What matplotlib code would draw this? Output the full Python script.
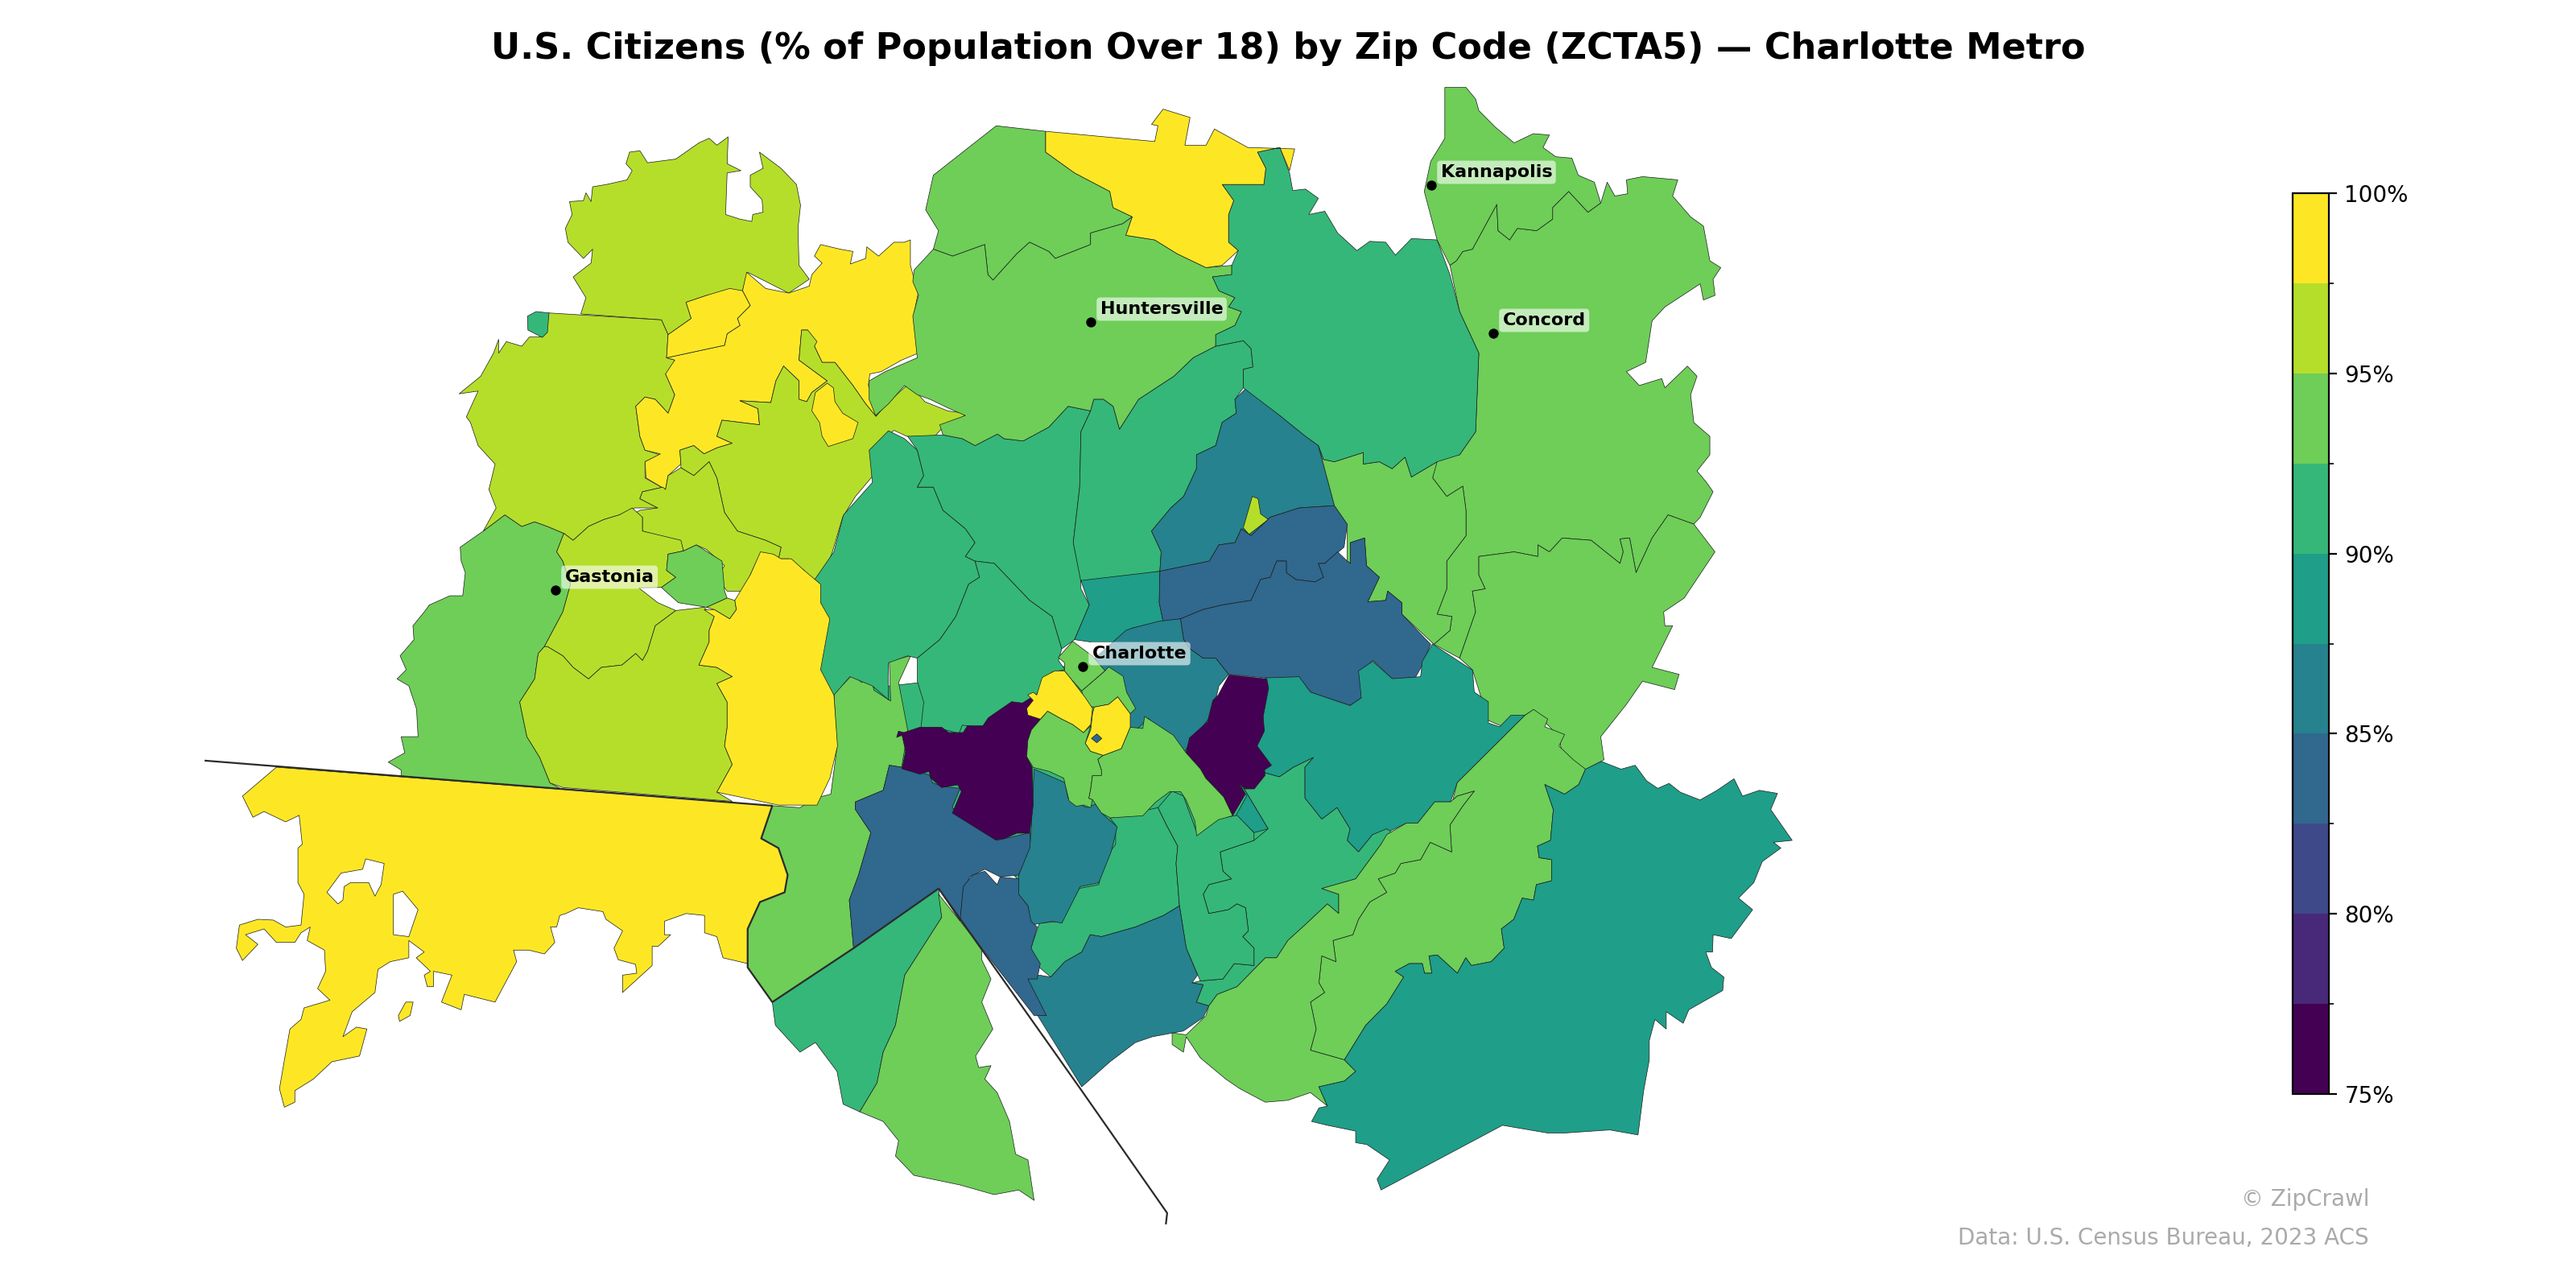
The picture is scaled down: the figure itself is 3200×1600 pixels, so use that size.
import matplotlib
matplotlib.use('Agg')
import matplotlib.pyplot as plt
from matplotlib.collections import PolyCollection
from matplotlib.colors import BoundaryNorm
from matplotlib.ticker import FixedLocator

SHEET_NW = (240, 100, 1.568, 1.742)
SHEET_N = (1000, 100, 1.2544, 1.742)
SHEET_SW = (240, 800, 1.3067, 2.0907)
SHEET_S = (1200, 800, 1.4255, 2.0907)
SHEET_MID = (1000, 700, 2.24, 3.0)

center_backing = [(137,471),(959,348),(1418,777),(1234,1329),(685,1329),(457,960),(184,777)]
green_west = [(607,940),(640,965),(665,955),(690,965),(722,980),(708,1020),(720,1040),(735,1090),(720,1150),(684,1225),(672,1240),(665,1295),(636,1345),(650,1420),(675,1465),(695,1520),(720,1535),(405,1505),(405,1492),(380,1475),(412,1455),(405,1420),(438,1420),(435,1360),(420,1310),(397,1295),(415,1275),(403,1245),(430,1210),(428,1180),(450,1150),(460,1135),(500,1115),(525,1115),(530,1065),(522,1040),(520,1010),(565,975)]
lime_north = [(740,425),(775,395),(778,365),(760,385),(730,350),(725,320),(738,290),(733,262),(760,260),(765,243),(775,262),(778,230),(805,225),(845,215),(855,195),(843,180),(850,155),(870,152),(885,178),(940,170),(985,135),(1005,125),(1020,140),(1042,122),(1040,180),(1067,195),(1040,200),(1037,290),(1065,300),(1088,305),(1090,290),(1110,285),(1108,258),(1085,230),(1085,205),(1110,190),(1103,155),(1145,190),(1175,225),(1183,270),(1178,320),(1180,400),(1200,430),(1160,460),(1080,415),(1070,455),(1000,465),(960,480),(970,515),(925,550),(912,518),(755,505),(765,470)]
lime_west = [(693,503),(912,518),(925,550),(922,600),(938,605),(930,635),(920,635),(938,680),(925,720),(900,690),(880,685),(862,705),(870,770),(880,800),(910,810),(880,825),(880,860),(920,885),(915,880),(875,890),(870,905),(905,925),(860,925),(830,940),(800,950),(770,965),(740,995),(722,980),(690,965),(665,955),(640,965),(607,940),(565,975),(590,925),(576,885),(588,830),(555,790),(540,740),(532,728),(555,672),(518,678),(560,640),(585,590),(595,560),(595,590),(610,565),(640,575),(655,555),(680,555)]
square_nw = [(651,510),(668,500),(693,503),(690,545),(680,556),(652,540)]
yellow_nw = [(922,600),(1035,573),(1040,548),(1065,530),(1060,515),(1085,487),(1070,455),(1078,415),(1115,450),(1160,460),(1200,445),(1205,420),(1225,395),(1210,380),(1222,355),(1260,365),(1285,370),(1280,397),(1310,385),(1312,360),(1335,380),(1365,350),(1385,350),(1397,345),(1397,400),(1412,460),(1403,510),(1412,590),(1380,605),(1340,630),(1318,635),(1315,660),(1330,700),(1345,707),(1330,727),(1310,700),(1285,660),(1250,610),(1225,610),(1210,575),(1197,540),(1185,540),(1180,605),(1235,650),(1205,675),(1195,695),(1180,690),(1180,650),(1150,618),(1135,650),(1125,697),(1065,693),(1100,710),(1103,745),(1030,735),(1020,770),(1050,785),(1020,795),(995,808),(975,790),(948,800),(950,830),(925,855),(920,885),(882,860),(880,825),(910,808),(880,800),(870,770),(862,705),(880,685),(900,690),(925,720),(938,680),(920,635),(938,605)]
yellow_nw_inner = [(922,600),(925,550),(970,515),(960,480),(1000,465),(1045,450),(1070,455),(1085,487),(1060,515),(1065,530),(1040,548),(1035,573)]
lime_center = [(1185,540),(1197,540),(1215,565),(1210,575),(1225,610),(1250,610),(1285,660),(1310,700),(1330,727),(1345,707),(1370,680),(1390,660),(1405,670),(1425,695),(1470,715),(1503,720),(1500,735),(1465,745),(1440,775),(1390,770),(1365,757),(1320,800),(1328,850),(1290,900),(1265,945),(1245,1020),(1222,1090),(1222,1130),(1190,1060),(1160,1035),(1140,1035),(1145,1010),(1115,995),(1060,975),(1035,935),(1020,860),(1005,825),(975,855),(950,838),(950,830),(948,800),(975,790),(995,808),(1020,795),(1050,785),(1020,770),(1030,735),(1103,745),(1100,710),(1065,693),(1125,697),(1135,650),(1150,618),(1180,650),(1180,690),(1195,695),(1205,675),(1235,650),(1180,605)]
yellow_small = [(1205,715),(1212,675),(1235,655),(1247,665),(1250,695),(1265,720),(1295,740),(1285,775),(1237,792),(1225,770),(1220,740)]
lime_middle = [(950,838),(975,855),(1005,825),(1020,860),(1035,935),(1060,975),(1115,995),(1145,1010),(1140,1035),(1100,1035),(1085,1070),(1085,1100),(1067,1105),(1040,1105),(1020,1075),(1035,1050),(1000,1015),(980,1005),(955,1018),(950,1000),(875,975),(875,945),(855,940),(870,930),(905,925),(870,905),(875,890),(915,880),(920,885),(925,855)]
lime_gastonia = [(722,980),(740,995),(770,965),(800,950),(830,940),(855,925),(875,945),(875,975),(950,995),(955,1018),(925,1025),(922,1060),(940,1075),(912,1097),(868,1098),(905,1130),(940,1147),(900,1180),(885,1235),(875,1255),(862,1240),(835,1265),(795,1270),(770,1295),(740,1270),(720,1245),(690,1225),(684,1225),(720,1150),(735,1090),(720,1040),(708,1020)]
lime_south = [(684,1225),(690,1225),(720,1245),(740,1270),(770,1295),(795,1270),(835,1265),(862,1240),(875,1255),(885,1235),(900,1180),(940,1147),(995,1140),(1015,1160),(1005,1190),(1005,1215),(985,1265),(1020,1270),(1050,1290),(1020,1305),(1040,1345),(1040,1400),(1035,1440),(1050,1480),(1020,1540),(1050,1560),(720,1530),(695,1520),(675,1465),(650,1420),(636,1345),(665,1295),(672,1240)]
green_blob = [(925,1025),(955,1018),(980,1005),(1030,1040),(1035,1105),(1040,1120),(1000,1140),(945,1130),(912,1097),(940,1075),(922,1060)]
lime_bit = [(1000,1140),(1040,1120),(1055,1125),(1058,1145),(1045,1165),(1015,1145)]
yellow_column = [(1045,1165),(1058,1145),(1055,1125),(1085,1070),(1105,1020),(1130,1025),(1145,1035),(1165,1035),(1190,1060),(1222,1090),(1222,1130),(1240,1165),(1222,1275),(1248,1330),(1255,1440),(1240,1510),(1215,1568),(1180,1568),(1140,1568),(1020,1540),(1050,1480),(1035,1440),(1040,1400),(1040,1345),(1020,1305),(1050,1290),(1020,1270),(985,1265),(1005,1215),(1005,1190),(1015,1160),(995,1145),(1015,1145)]

green_strip = [(1040,125),(1055,105),(1070,80),(1085,100),(1100,85),(1105,120),(1132,148),(1130,45),(1165,30),(1145,100),(1160,225),(1150,320),(1130,315),(1120,380),(1075,410),(1075,430),(1100,490),(1080,600),(1065,665),(1072,790),(940,930),(900,840),(900,740),(920,670),(960,645),(965,600),(950,530),(920,505),(925,450),(940,420),(985,425),(1010,400),(1035,390),(1045,270)]

lake_west = [(130,758),(155,775),(175,800),(185,855),(175,880),(200,880),(215,930),(250,970),(265,1000),(250,1030),(265,1040),(272,1075),(255,1090),(235,1160),(210,1210),(175,1250),(160,1245),(130,1260),(130,1340),(105,1310),(70,1290),(45,1330),(5,1290),(5,1100),(45,1020),(60,940),(105,870),(100,800)]
lake_center = [(160,770),(215,767),(245,775),(265,790),(300,765),(310,775),(340,780),(380,750),(410,705),(445,715),(430,760),(428,880),(418,1000),(430,1080),(430,1100),(443,1135),(420,1210),(400,1230),(385,1160),(350,1125),(295,1045),(265,1040),(250,1030),(265,1000),(250,970),(215,930),(200,880),(175,880),(185,855),(175,800)]
city_nw = [(265,1040),(295,1045),(350,1125),(385,1160),(400,1230),(395,1255),(405,1275),(385,1280),(355,1340),(340,1375),(300,1380),(275,1400),(245,1395),(240,1413),(205,1400),(180,1410),(185,1345),(175,1300),(175,1250),(210,1210),(235,1160),(255,1090),(272,1075)]
green_top = [(298,98),(375,110),(375,155),(420,200),(475,240),(480,275),(510,295),(495,310),(445,330),(445,355),(390,385),(380,370),(350,350),(330,375),(293,432),(285,420),(280,355),(230,380),(200,365),(208,325),(188,280),(200,205)]
huntersville = [(200,365),(230,380),(280,355),(285,420),(293,432),(330,375),(350,350),(380,370),(390,385),(445,355),(445,330),(495,310),(510,295),(500,335),(545,345),(580,375),(625,405),(665,400),(665,420),(635,425),(645,455),(670,470),(660,490),(680,500),(670,530),(640,550),(640,575),(605,600),(575,640),(520,690),(490,755),(480,705),(465,690),(450,690),(445,715),(410,705),(380,750),(340,780),(310,775),(300,765),(265,790),(245,775),(215,767),(210,745),(250,725),(225,710),(195,690),(175,680),(155,660),(130,700),(110,725),(100,690),(100,650),(125,630),(175,600),(168,510),(177,465),(168,435),(170,410)]
north_mid = [(445,715),(450,690),(465,690),(480,705),(490,755),(520,690),(575,640),(605,600),(640,575),(683,563),(695,580),(698,620),(683,625),(683,665),(670,690),(672,720),(650,740),(640,790),(610,810),(610,840),(590,900),(570,925),(540,975),(555,1020),(553,1062),(470,1080),(430,1085),(418,1000),(428,880),(430,760)]
teal_center = [(430,1082),(553,1062),(552,1130),(558,1170),(510,1185),(500,1215),(445,1215),(420,1210),(443,1135)]
north_east = [(688,665),(740,725),(780,770),(800,790),(825,920),(770,925),(725,945),(695,985),(680,970),(670,1000),(645,1005),(630,1040),(553,1062),(555,1020),(540,975),(570,925),(590,900),(610,840),(610,810),(640,790),(650,740),(672,720),(670,690)]
lime_blob = [(697,900),(706,905),(710,938),(722,950),(692,982),(683,968)]
blue_upper = [(553,1062),(630,1040),(645,1005),(670,1000),(680,970),(695,985),(725,945),(770,925),(825,920),(845,960),(840,1010),(810,1045),(800,1045),(808,1075),(795,1085),(765,1080),(750,1065),(750,1040),(735,1040),(725,1075),(710,1080),(695,1125),(650,1135),(620,1145),(585,1165),(558,1170),(552,1130)]
blue_lower = [(585,1165),(620,1145),(650,1135),(695,1125),(710,1080),(725,1075),(735,1040),(750,1040),(750,1065),(765,1080),(795,1085),(808,1075),(800,1045),(810,1045),(830,1020),(845,1040),(850,1045),(850,1000),(872,990),(875,1050),(895,1075),(877,1128),(905,1125),(908,1105),(930,1130),(930,1155),(975,1220),(960,1270),(950,1295),(915,1295),(885,1255),(865,1280),(868,1335),(850,1352),(790,1325),(770,1295),(720,1293),(660,1285),(640,1250),(620,1250),(600,1230),(590,1210)]
cabarrus_west = [(650,225),(715,225),(718,190),(705,155),(740,145),(755,200),(760,238),(780,235),(800,255),(785,290),(810,283),(830,330),(860,368),(880,348),(905,350),(920,378),(945,342),(985,345),(1005,420),(1020,500),(1050,590),(1045,760),(1020,810),(985,825),(945,858),(935,815),(915,840),(895,825),(870,830),(870,805),(825,825),(808,820),(800,790),(780,770),(740,725),(683,665),(683,625),(698,620),(695,580),(683,563),(640,575),(640,550),(670,530),(680,500),(660,490),(670,470),(645,455),(635,425),(665,420),(665,400),(675,368),(660,350),(660,290),(668,260)]
yellow_north = [(375,110),(545,132),(550,98),(540,95),(558,62),(600,80),(592,140),(625,140),(638,105),(690,145),(763,148),(755,195),(740,145),(705,155),(718,190),(715,225),(650,225),(668,260),(660,290),(660,350),(675,368),(650,400),(625,405),(580,375),(545,345),(500,335),(510,295),(480,275),(475,240),(420,200),(375,155)]
kannapolis = [(997,15),(1030,15),(1045,40),(1050,65),(1075,100),(1105,135),(1135,115),(1160,118),(1150,145),(1170,165),(1195,168),(1205,205),(1230,220),(1240,265),(1220,285),(1190,240),(1165,275),(1165,300),(1140,325),(1110,320),(1098,345),(1080,325),(1078,268),(1040,365),(1025,370),(1015,390),(1005,400),(985,345),(965,240),(975,175),(997,125)]
concord = [(1005,400),(1015,390),(1025,370),(1040,365),(1078,268),(1080,325),(1098,345),(1110,320),(1140,325),(1165,300),(1165,275),(1190,240),(1220,285),(1240,265),(1250,220),(1262,250),(1282,245),(1280,215),(1305,208),(1360,215),(1352,250),(1380,295),(1400,315),(1410,390),(1427,405),(1415,430),(1418,465),(1400,475),(1395,440),(1340,490),(1320,520),(1310,610),(1280,630),(1300,660),(1335,645),(1340,665),(1375,618),(1390,640),(1380,680),(1385,740),(1410,770),(1410,810),(1390,845),(1405,870),(1415,890),(1395,945),(1385,960),(1345,940),(1320,990),(1295,1065),(1285,990),(1270,992),(1275,1020),(1270,1045),(1225,995),(1180,990),(1160,1020),(1142,1005),(1142,1030),(1105,1020),(1050,1030),(1050,1070),(1060,1100),(1040,1105),(1045,1150),(1020,1250),(980,1220),(1005,1190),(1008,1160),(985,1155),(1000,1100),(1000,1040),(1030,985),(1030,930),(1025,878),(1000,900),(978,860),(985,812),(1020,810),(1045,760),(1050,590),(1020,500)]
harrisburg = [(800,790),(808,820),(825,825),(870,805),(870,830),(895,825),(915,840),(935,815),(945,858),(985,825),(978,860),(1000,900),(1025,878),(1030,930),(1030,985),(1000,1040),(1000,1100),(985,1155),(1008,1160),(1005,1190),(980,1220),(930,1155),(930,1130),(908,1105),(905,1125),(877,1128),(895,1075),(875,1050),(872,990),(850,1000),(850,1045),(845,1040),(845,960),(825,920)]
concord_south = [(1345,940),(1385,960),(1418,1020),(1370,1120),(1338,1150),(1340,1180),(1352,1180),(1320,1270),(1362,1285),(1355,1318),(1305,1300),(1280,1350),(1240,1420),(1245,1470),(1215,1492),(1180,1460),(1175,1420),(1135,1362),(1120,1375),(1090,1400),(1065,1385),(1040,1275),(1020,1250),(1045,1150),(1040,1105),(1060,1100),(1050,1070),(1050,1030),(1105,1020),(1142,1030),(1142,1005),(1160,1020),(1180,990),(1225,995),(1270,1045),(1275,1020),(1270,992),(1285,990),(1295,1065),(1320,990)]
east_city = [(500,1190),(510,1185),(552,1170),(585,1165),(590,1210),(600,1230),(620,1250),(640,1250),(660,1285),(645,1310),(635,1370),(605,1425),(590,1455),(535,1380),(505,1420),(460,1350),(440,1265)]

mint_hill = [(530,88),(590,85),(610,125),(680,160),(700,140),(695,70),(720,45),(755,90),(805,85),(808,45),(826,0),(897,68),(900,125),(925,150),(925,205),(945,215),(965,185),(990,185),(870,360),(858,410),(830,410),(800,465),(780,465),(745,490),(720,495),(695,540),(675,510),(680,480),(657,425),(630,455),(600,400),(600,320),(615,295),(580,320),(555,345),(530,335),(515,262),(528,225),(520,140)]
thin_teal = [(480,352),(492,375),(535,480),(510,490),(478,445),(497,395)]
south_a = [(255,452),(340,425),(355,470),(375,525),(372,570),(378,680),(350,705),(300,735),(240,760),(220,755),(205,800),(175,825),(150,865),(130,840),(115,790),(130,725),(170,720),(200,635),(235,625),(245,560),(265,520),(265,470)]
south_b = [(340,425),(365,382),(385,395),(410,495),(440,455),(480,445),(510,490),(510,510),(470,530),(450,540),(455,590),(470,610),(430,625),(420,650),(430,700),(465,690),(480,675),(495,685),(500,745),(490,760),(510,790),(510,835),(475,830),(455,870),(415,875),(390,790),(378,680),(372,570),(375,525),(355,470)]
south_c = [(530,335),(555,345),(580,320),(615,295),(600,320),(600,400),(630,455),(657,425),(680,480),(675,510),(695,540),(720,495),(745,480),(755,490),(735,520),(715,560),(690,610),(630,635),(660,650),(660,700),(640,675),(600,730),(570,770),(550,815),(530,815),(480,890),(445,910),(430,940),(408,930),(420,885),(400,880),(415,875),(455,870),(475,830),(510,835),(510,790),(490,760),(500,745),(495,685),(480,675),(465,690),(430,700),(420,650),(430,625),(470,610),(455,590),(450,540),(470,530),(510,510),(535,480),(492,375),(480,352),(510,375)]
south_d = [(378,680),(390,790),(410,860),(400,880),(420,885),(408,930),(430,940),(420,970),(385,1005),(330,1020),(300,1035),(255,1085),(205,1150),(110,925),(110,870),(130,860),(150,865),(175,825),(205,800),(220,755),(240,760),(300,735),(350,705)]
long_east = [(1005,170),(1030,195),(1025,215),(1060,235),(1050,265),(1075,300),(1097,325),(1085,365),(1060,390),(1025,365),(1040,430),(1035,510),(1012,525),(1015,555),(1037,560),(1037,615),(1010,625),(1005,665),(985,660),(970,715),(948,740),(953,790),(930,825),(895,835),(885,815),(870,855),(835,808),(820,810),(825,855),(812,855),(808,830),(785,830),(760,850),(775,865),(745,935),(708,990),(670,1080),(610,1055),(620,1000),(610,930),(635,905),(625,880),(630,810),(655,825),(650,770),(685,755),(695,715),(715,670),(745,645),(730,610),(760,595),(770,570),(805,560),(822,515),(860,540),(857,470),(880,420),(900,382),(870,395),(862,405),(870,360),(990,185)]
long_west = [(900,382),(880,420),(857,470),(860,540),(822,515),(805,560),(770,570),(760,595),(730,610),(745,645),(715,670),(695,715),(685,755),(650,770),(655,825),(630,810),(625,880),(635,905),(610,930),(620,1000),(610,1055),(670,1080),(690,1110),(670,1135),(625,1150),(640,1200),(610,1165),(570,1185),(530,1190),(485,1155),(460,1130),(415,1075),(390,1020),(385,1060),(365,1040),(365,1010),(390,1015),(425,965),(430,940),(445,910),(480,890),(530,815),(550,815),(570,770),(600,730),(640,675),(660,700),(660,650),(630,635),(690,610),(715,560),(735,520),(745,495),(780,465),(800,465),(830,410),(858,410),(862,405),(870,395)]
far_southeast = [(1125,305),(1160,325),(1185,315),(1205,355),(1225,375),(1245,362),(1265,385),(1300,405),(1330,380),(1360,350),(1375,395),(1405,380),(1437,388),(1425,430),(1463,510),(1430,515),(1443,530),(1410,565),(1395,620),(1368,660),(1393,690),(1355,765),(1323,755),(1322,800),(1310,800),(1320,840),(1342,865),(1340,900),(1280,950),(1270,985),(1240,955),(1240,1000),(1220,975),(1210,1030),(1210,1080),(1200,1160),(1190,1275),(1140,1262),(1060,1270),(1030,1270),(950,1250),(735,1418),(728,1390),(750,1340),(710,1300),(690,1295),(690,1265),(640,1250),(612,1240),(625,1205),(640,1200),(625,1150),(670,1135),(690,1110),(670,1080),(708,990),(745,935),(775,865),(760,850),(785,830),(808,830),(812,855),(825,855),(820,810),(835,808),(870,855),(885,815),(895,835),(930,825),(953,790),(948,740),(970,715),(985,660),(1005,665),(1010,625),(1037,615),(1037,560),(1015,555),(1012,525),(1035,510),(1040,430),(1025,365),(1060,390),(1085,365),(1097,325)]

west_blue = [(1130,315),(1150,320),(1195,340),(1200,360),(1215,370),(1245,375),(1232,425),(1305,510),(1358,490),(1360,530),(1340,600),(1310,605),(1285,585),(1260,605),(1258,625),(1275,630),(1250,635),(1245,720),(1210,635),(1072,790),(1065,665),(1080,600),(1100,490),(1075,430),(1075,410),(1120,380)]
south_blue = [(1250,630),(1265,600),(1285,590),(1305,625),(1310,605),(1340,610),(1340,650),(1355,680),(1360,720),(1370,735),(1360,790),(1375,830),(1370,870),(1355,870),(1385,965),(1365,965),(1280,790),(1245,715)]
mid_teal = [(1365,325),(1415,360),(1420,400),(1450,425),(1475,410),(1475,440),(1500,475),(1490,540),(1470,620),(1440,630),(1410,725),(1395,720),(1360,730),(1355,680),(1338,650),(1340,600),(1358,530),(1360,490)]
sc_yellow = [(135,320),(940,420),(922,505),(950,530),(965,600),(960,645),(920,670),(900,740),(900,830),(860,815),(850,760),(830,750),(830,705),(800,700),(765,720),(765,755),(775,755),(755,785),(745,785),(745,835),(697,905),(697,860),(720,855),(718,832),(690,820),(683,790),(697,745),(670,715),(665,695),(625,685),(605,700),(595,705),(590,735),(580,735),(587,775),(570,805),(545,795),(520,795),(525,825),(490,930),(440,910),(435,950),(403,930),(420,860),(390,850),(390,890),(380,890),(375,860),(385,850),(362,815),(375,800),(350,770),(350,815),(320,825),(300,845),(295,905),(258,955),(243,1020),(265,995),(282,1000),(270,1070),(225,1085),(195,1130),(165,1160),(165,1190),(148,1203),(140,1155),(147,1090),(157,1000),(175,975),(180,945),(222,925),(202,895),(215,850),(213,795),(185,770),(190,735),(175,750),(165,775),(135,775),(115,740),(85,755),(105,780),(80,822),(70,790),(75,730),(105,715),(130,717),(150,735),(175,730),(180,650),(170,620),(170,530),(177,520),(172,445),(150,462),(115,435),(97,450),(80,395)]
sc_island = [(345,930),(357,930),(352,965),(335,980),(333,965)]
south_tip_teal = [(940,930),(1072,790),(1210,635),(1215,710),(1155,860),(1140,990),(1120,1060),(1110,1140),(1082,1215),(1055,1195),(1045,1110),(1010,1035),(985,1060),(945,990)]
south_tip_green = [(1210,650),(1215,710),(1155,860),(1140,990),(1120,1060),(1110,1140),(1082,1215),(1120,1240),(1145,1290),(1140,1330),(1170,1380),(1245,1405),(1300,1430),(1340,1418),(1365,1445),(1355,1340),(1335,1325),(1325,1240),(1305,1165),(1285,1130),(1295,1095),(1275,1100),(1270,1070),(1298,1000),(1280,930),(1295,870),(1280,820),(1280,790)]

purple_west = [(635,495),(655,580),(630,620),(617,720),(632,760),(635,900),(625,1005),(590,1005),(555,1025),(530,1030),(410,930),(435,850),(425,825),(380,835),(350,800),(345,775),(320,785),(270,765),(280,700),(270,640),(255,648),(260,625),(275,630),(320,610),(380,610),(400,630),(440,630),(452,605),(495,605),(510,575),(575,515),(605,520)]
purple_east = [(1180,415),(1285,430),(1290,465),(1275,570),(1278,625),(1258,680),(1298,752),(1278,770),(1280,790),(1250,840),(1225,840),(1205,815),(1225,860),(1190,940),(1165,870),(1115,800),(1100,765),(1060,705),(1070,650),(1120,590),(1135,510),(1150,490)]
uptown = [(745,290),(775,320),(800,345),(835,400),(770,475),(740,430),(722,400),(722,370),(705,350)]
uptown_east = [(845,385),(885,420),(895,480),(920,540),(905,560),(870,497),(845,525),(805,535),(780,530),(770,475),(835,400)]
yellow_west = [(695,400),(722,400),(740,430),(780,500),(800,540),(795,600),(775,630),(745,600),(715,580),(675,550),(655,580),(620,565),(617,540),(635,510),(620,490),(635,480),(645,490),(660,425)]
yellow_east = [(805,535),(845,525),(870,497),(905,560),(905,610),(880,690),(830,715),(795,700),(780,670),(795,620),(800,560)]
tiny_blue = [(812,635),(826,652),(812,668),(797,652)]
green_under_yellow = [(675,550),(715,580),(745,600),(775,630),(795,605),(780,670),(795,700),(830,715),(815,730),(825,770),(825,790),(800,790),(795,840),(790,875),(800,880),(795,910),(775,900),(755,905),(735,885),(725,830),(720,800),(680,775),(635,760),(617,720),(620,660),(630,620)]
green_south_east = [(945,570),(1025,640),(1060,705),(1100,765),(1115,800),(1165,870),(1190,940),(1150,955),(1115,990),(1090,1015),(1085,960),(1060,880),(1045,850),(1015,850),(975,890),(940,940),(850,948),(825,930),(800,880),(790,875),(795,840),(800,790),(825,790),(825,770),(815,730),(830,715),(880,690),(905,610),(940,615)]

# drawn in this order, later zones sit on top of earlier ones
zone_shapes = [
    (SHEET_MID, center_backing),
    (SHEET_NW, green_west), (SHEET_NW, lime_north), (SHEET_NW, lime_west), (SHEET_NW, square_nw),
    (SHEET_NW, yellow_nw), (SHEET_NW, yellow_nw_inner), (SHEET_NW, lime_center), (SHEET_NW, yellow_small),
    (SHEET_NW, lime_middle), (SHEET_NW, lime_gastonia), (SHEET_NW, lime_south), (SHEET_NW, green_blob),
    (SHEET_NW, lime_bit), (SHEET_SW, green_strip),
    (SHEET_N, lake_west), (SHEET_N, lake_center), (SHEET_N, city_nw), (SHEET_NW, yellow_column), (SHEET_N, green_top),
    (SHEET_N, huntersville), (SHEET_N, north_mid), (SHEET_N, teal_center), (SHEET_N, north_east),
    (SHEET_N, lime_blob), (SHEET_N, blue_upper), (SHEET_N, concord), (SHEET_N, concord_south),
    (SHEET_N, harrisburg), (SHEET_N, blue_lower), (SHEET_N, cabarrus_west), (SHEET_N, yellow_north),
    (SHEET_N, kannapolis), (SHEET_N, east_city),
    (SHEET_S, mint_hill), (SHEET_S, south_a), (SHEET_S, south_c), (SHEET_S, thin_teal), (SHEET_S, south_b),
    (SHEET_S, south_d), (SHEET_SW, west_blue), (SHEET_SW, mid_teal), (SHEET_SW, south_blue),
    (SHEET_MID, purple_west), (SHEET_MID, purple_east), (SHEET_MID, green_under_yellow),
    (SHEET_MID, green_south_east), (SHEET_MID, uptown), (SHEET_MID, uptown_east),
    (SHEET_MID, yellow_west), (SHEET_MID, yellow_east), (SHEET_MID, tiny_blue),
    (SHEET_S, long_east), (SHEET_S, long_west), (SHEET_S, far_southeast),
    (SHEET_SW, sc_yellow), (SHEET_SW, sc_island), (SHEET_SW, south_tip_teal), (SHEET_SW, south_tip_green),
]
# percent citizens, one for each zone above
zone_values = [
    91.0,
    93.8, 96.2, 96.1, 91.3,
    98.6, 98.9, 96.0, 98.4,
    96.3, 96.4, 96.2, 93.9,
    96.0, 94.0,
    91.2, 91.4, 90.9, 98.2, 93.7,
    93.6, 91.1, 89.0, 86.3,
    96.0, 84.0, 93.7, 93.5,
    93.9, 83.9, 91.5, 98.7,
    94.0, 86.0,
    88.9, 91.0, 91.3, 88.6, 91.1,
    86.1, 83.8, 86.2, 84.1,
    76.0, 76.3, 93.8,
    93.6, 93.9, 93.7,
    98.3, 98.8, 83.0,
    93.6, 93.8, 88.7,
    99.0, 99.0, 91.2, 93.8,
]

# white water cut-outs in the South Carolina zone
sc_holes = [
    [(217,645),(240,595),(275,585),(280,558),(310,570),(305,625),(295,655),(285,620),(255,620),(245,630),(243,665),(235,675)],
    [(325,650),(340,642),(365,690),(350,760),(325,755)],
]
state_line = [(20,303),(940,420),(922,505),(950,530),(965,600),(960,645),(920,670),(900,740),(900,840),(940,930),(1072,790),(1210,635),(1440,1155),(1581,1478),(1579,1505)]

city_names = ['Kannapolis', 'Huntersville', 'Concord', 'Gastonia', 'Charlotte']
city_x = [1778, 1355, 1855, 690, 1345]
city_y = [230, 400, 414, 733, 828]

band_edges = [75, 77.5, 80, 82.5, 85, 87.5, 90, 92.5, 95, 97.5, 100]
major_ticks = [75, 80, 85, 90, 95, 100]
minor_ticks = [77.5, 82.5, 87.5, 92.5, 97.5]


def unsheet(sheet, points):
    # crop units back to picture pixels
    x0, y0, sx, sy = sheet
    return [(x0 + x / sx, y0 + y / sy) for x, y in points]


cmap = plt.get_cmap('viridis', 10)
norm = BoundaryNorm(band_edges, cmap.N)

fig = plt.figure(figsize=(16, 8), dpi=200)
ax = fig.add_axes([0, 0, 1, 1])
ax.set_xlim(0, 3200)
ax.set_ylim(1600, 0)
ax.axis('off')

zones = PolyCollection([unsheet(s, p) for s, p in zone_shapes], array=zone_values, cmap=cmap, norm=norm,
                       edgecolor='#1a1a1a', linewidth=0.25, zorder=2)
ax.add_collection(zones)
holes = PolyCollection([unsheet(SHEET_SW, p) for p in sc_holes], facecolor='white',
                       edgecolor='#1a1a1a', linewidth=0.25, zorder=3)
ax.add_collection(holes)

line = unsheet(SHEET_SW, state_line)
ax.plot([p[0] for p in line], [p[1] for p in line], color='#2b2b2b', linewidth=0.8, zorder=4)

ax.scatter(city_x, city_y, s=12, color='black', zorder=6)
for name, x, y in zip(city_names, city_x, city_y):
    ax.annotate(name, (x, y), xytext=(4.2, 3.6), textcoords='offset points', fontsize=8, fontweight='bold',
                color='black', zorder=7,
                bbox=dict(boxstyle='round,pad=0.2', facecolor='white', edgecolor='none', alpha=0.6))

fig.text(0.5, 1 - 61 / 1600, 'U.S. Citizens (% of Population Over 18) by Zip Code (ZCTA5) — Charlotte Metro',
         ha='center', va='center', fontsize=16, fontweight='bold')
fig.text(2943 / 3200, 1 - 1490 / 1600, '© ZipCrawl', ha='right', va='center', fontsize=10, color='#aaaaaa')
fig.text(2943 / 3200, 1 - 1538 / 1600, 'Data: U.S. Census Bureau, 2023 ACS', ha='right', va='center',
         fontsize=10, color='#aaaaaa')

cax = fig.add_axes([2848 / 3200, 1 - 1359 / 1600, 45 / 3200, 1119 / 1600])
cbar = fig.colorbar(zones, cax=cax, boundaries=band_edges, spacing='proportional')
cbar.set_ticks(major_ticks)
cbar.set_ticklabels([f'{t}%' for t in major_ticks])
cax.yaxis.set_minor_locator(FixedLocator(minor_ticks))
cax.tick_params(labelsize=10)

fig.savefig('out.png', dpi=200)
